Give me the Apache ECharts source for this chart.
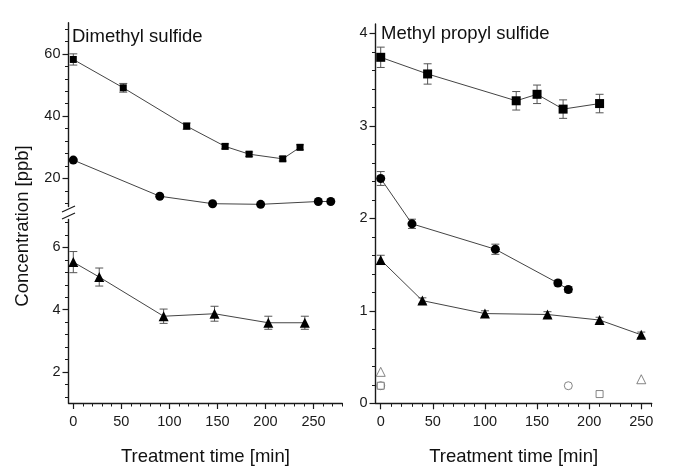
<!DOCTYPE html>
<html>
<head>
<meta charset="utf-8">
<script src="https://cdn.jsdelivr.net/npm/echarts@6/dist/echarts.min.js"></script>
<style>
html,body{margin:0;padding:0;background:#fff;}
#chart{width:685px;height:475px;}
</style>
</head>
<body>
<div id="chart"></div>
<script>
// ---------- Data ----------
// Dimethyl sulfide (left panel)
var dmsSqTime = [0, 52, 118, 158, 183, 218, 236];
var dmsSqConc = [58.2, 49.1, 36.8, 30.3, 27.8, 26.3, 30.0];
var dmsSqErr  = [1.8, 1.4, 1.0, 0.8, 0.7, 0.7, 0.8];

var dmsCiTime = [0, 90, 145, 195, 255, 268];
var dmsCiConc = [25.9, 14.3, 11.9, 11.7, 12.6, 12.6];

var dmsTrTime = [0, 27, 94, 147, 203, 241];
var dmsTrConc = [5.53, 5.05, 3.79, 3.87, 3.58, 3.58];
var dmsTrErr  = [0.34, 0.29, 0.23, 0.24, 0.21, 0.21];

// Methyl propyl sulfide (right panel)
var mpsSqTime = [0, 45, 130, 150, 175, 210];
var mpsSqConc = [3.74, 3.56, 3.27, 3.34, 3.18, 3.24];
var mpsSqErr  = [0.11, 0.11, 0.10, 0.10, 0.10, 0.10];

var mpsCiTime = [0, 30, 110, 170, 180];
var mpsCiConc = [2.43, 1.94, 1.665, 1.30, 1.23];
var mpsCiErr  = [0.075, 0.05, 0.055, 0.03, 0.03];

var mpsTrTime = [0, 40, 100, 160, 210, 250];
var mpsTrConc = [1.55, 1.11, 0.97, 0.96, 0.90, 0.74];
var mpsTrErr  = [0.05, 0.03, 0.03, 0.03, 0.03, 0.03];

// open symbols (controls)
var ctrlTriTime = [0, 250];
var ctrlTriConc = [0.34, 0.26];
var ctrlCirTime = [0, 180];
var ctrlCirConc = [0.19, 0.19];
var ctrlSqTime  = [0, 210];
var ctrlSqConc  = [0.19, 0.10];

// ---------- Tick labels ----------
var xTicksLeft  = [0, 50, 100, 150, 200, 250];
var xTicksRight = [0, 50, 100, 150, 200, 250];
var xMinorLeft  = [10,20,30,40,60,70,80,90,110,120,130,140,160,170,180,190,210,220,230,240,260,270,280];
var xMinorRight = [10,20,30,40,60,70,80,90,110,120,130,140,160,170,180,190,210,220,230,240,260];
var yTicksUpper = [20, 40, 60];
var yMinorUpper = [12,16,24,28,32,36,44,48,52,56,64,68];
var yTicksLower = [2, 4, 6];
var yMinorLower = [1.2,1.6,2.4,2.8,3.2,3.6,4.4,4.8,5.2,5.6,6.4,6.8];
var yTicksRight = [0, 1, 2, 3, 4];
var yMinorRight = [0.2,0.4,0.6,0.8,1.2,1.4,1.6,1.8,2.2,2.4,2.6,2.8,3.2,3.4,3.6,3.8];

// ---------- Helpers ----------
function pairs(xs, ys){ return xs.map(function(x,i){ return [x, ys[i]]; }); }
function errs(xs, ys, es){ return xs.map(function(x,i){ return [x, ys[i]-es[i], ys[i]+es[i]]; }); }

var FONT = 'Liberation Sans, Arial, sans-serif';
var AX = '#1a1a1a';

function errItem(params, api){
  var x = api.value(0), lo = api.value(1), hi = api.value(2);
  var p1 = api.coord([x, hi]), p2 = api.coord([x, lo]);
  var w = 4;
  var st = {stroke:'#555', lineWidth:1, fill:null};
  return {type:'group', children:[
    {type:'line', shape:{x1:p1[0], y1:p1[1], x2:p2[0], y2:p2[1]}, style:st},
    {type:'line', shape:{x1:p1[0]-w, y1:p1[1], x2:p1[0]+w, y2:p1[1]}, style:st},
    {type:'line', shape:{x1:p2[0]-w, y1:p2[1], x2:p2[0]+w, y2:p2[1]}, style:st}
  ]};
}

function mainX(idx, min, max, ticks, showName){
  return {
    type:'value', gridIndex:idx, min:min, max:max, position:'bottom',
    show: showName !== null,
    name: showName || '', nameLocation:'middle', nameGap:44,
    nameTextStyle:{fontFamily:FONT, fontSize:18.5, color:'#111'},
    axisLine:{show:true, onZero:false, lineStyle:{color:AX, width:1.4}},
    axisTick:{show:true, length:6, customValues:ticks, lineStyle:{color:AX, width:1.2}},
    axisLabel:{show:true, customValues:ticks, margin:11, fontFamily:FONT, fontSize:14.5, color:'#1a1a1a'},
    splitLine:{show:false}
  };
}
function minorX(idx, min, max, ticks){
  return {
    type:'value', gridIndex:idx, min:min, max:max, position:'bottom',
    axisLine:{show:false, onZero:false},
    axisTick:{show:true, length:3.5, customValues:ticks, lineStyle:{color:AX, width:1}},
    axisLabel:{show:false}, splitLine:{show:false}
  };
}
function mainY(idx, min, max, ticks){
  return {
    type:'value', gridIndex:idx, min:min, max:max, position:'left',
    axisLine:{show:true, onZero:false, lineStyle:{color:AX, width:1.4}},
    axisTick:{show:true, length:6, customValues:ticks, lineStyle:{color:AX, width:1.2}},
    axisLabel:{show:true, customValues:ticks, margin:8, fontFamily:FONT, fontSize:14.5, color:'#1a1a1a'},
    splitLine:{show:false}
  };
}
function minorY(idx, min, max, ticks){
  return {
    type:'value', gridIndex:idx, min:min, max:max, position:'left',
    axisLine:{show:false, onZero:false},
    axisTick:{show:true, length:3.5, customValues:ticks, lineStyle:{color:AX, width:1}},
    axisLabel:{show:false}, splitLine:{show:false}
  };
}

var lineStyle = {color:'#444', width:1};
function lineSeries(xi, yi, data, symbol, size){
  return {type:'line', xAxisIndex:xi, yAxisIndex:yi, data:data, symbol:symbol, symbolSize:size,
    showSymbol:true, lineStyle:lineStyle, itemStyle:{color:'#000', borderWidth:0}, z:5, silent:true, animation:false, clip:false};
}
function errSeries(xi, yi, data){
  return {type:'custom', xAxisIndex:xi, yAxisIndex:yi, data:data, renderItem:errItem, z:3, silent:true, animation:false};
}
function openSeries(xi, yi, data, symbol, size){
  return {type:'scatter', xAxisIndex:xi, yAxisIndex:yi, data:data, symbol:symbol, symbolSize:size,
    itemStyle:{color:'#fff', borderColor:'#666', borderWidth:1}, z:4, silent:true, animation:false};
}

var option = {
  backgroundColor:'#fff',
  animation:false,
  title:[
    {text:'Dimethyl sulfide', left:72, top:27, padding:0, textStyle:{fontFamily:FONT, fontSize:18.5, fontWeight:'normal', color:'#111'}},
    {text:'Methyl propyl sulfide', left:381, top:24, padding:0, textStyle:{fontFamily:FONT, fontSize:18.5, fontWeight:'normal', color:'#111'}}
  ],
  grid:[
    {left:68.5, top:22.7, width:273.8, height:183.8},
    {left:68.5, top:219.5, width:273.8, height:183.5},
    {left:375.5, top:24, width:276.2, height:379.3}
  ],
  xAxis:[
    mainX(0, -5, 280, xTicksLeft, null),
    mainX(1, -5, 280, xTicksLeft, 'Treatment time [min]'),
    minorX(1, -5, 280, xMinorLeft),
    mainX(2, -5, 260, xTicksRight, 'Treatment time [min]'),
    minorX(2, -5, 260, xMinorRight)
  ],
  yAxis:[
    mainY(0, 11, 70, yTicksUpper),
    minorY(0, 11, 70, yMinorUpper),
    mainY(1, 1, 6.9, yTicksLower),
    minorY(1, 1, 6.9, yMinorLower),
    mainY(2, 0, 4.1, yTicksRight),
    minorY(2, 0, 4.1, yMinorRight)
  ],
  series:[
    errSeries(0, 0, errs(dmsSqTime, dmsSqConc, dmsSqErr)),
    lineSeries(0, 0, pairs(dmsSqTime, dmsSqConc), 'rect', 7),
    lineSeries(0, 0, pairs(dmsCiTime, dmsCiConc), 'circle', 9),
    errSeries(1, 2, errs(dmsTrTime, dmsTrConc, dmsTrErr)),
    lineSeries(1, 2, pairs(dmsTrTime, dmsTrConc), 'triangle', 10),

    errSeries(3, 4, errs(mpsSqTime, mpsSqConc, mpsSqErr)),
    lineSeries(3, 4, pairs(mpsSqTime, mpsSqConc), 'rect', 9),
    errSeries(3, 4, errs(mpsCiTime, mpsCiConc, mpsCiErr)),
    lineSeries(3, 4, pairs(mpsCiTime, mpsCiConc), 'circle', 9),
    errSeries(3, 4, errs(mpsTrTime, mpsTrConc, mpsTrErr)),
    lineSeries(3, 4, pairs(mpsTrTime, mpsTrConc), 'triangle', 10),

    openSeries(3, 4, pairs(ctrlTriTime, ctrlTriConc), 'triangle', 9),
    openSeries(3, 4, pairs(ctrlCirTime, ctrlCirConc), 'circle', 8),
    openSeries(3, 4, pairs(ctrlSqTime, ctrlSqConc), 'rect', 7)
  ],
  graphic:[
    {type:'text', x:23, y:226, rotation:Math.PI/2, style:{text:'Concentration [ppb]', fontFamily:FONT, fontSize:18.5, fill:'#111', align:'center', verticalAlign:'middle'}},
    {type:'line', shape:{x1:62, y1:212, x2:75, y2:206}, style:{stroke:AX, lineWidth:1.2}},
    {type:'line', shape:{x1:62, y1:219, x2:75, y2:213}, style:{stroke:AX, lineWidth:1.2}}
  ]
};

var chart = echarts.init(document.getElementById('chart'), null, {renderer:'canvas'});
chart.setOption(option);
</script>
</body>
</html>
